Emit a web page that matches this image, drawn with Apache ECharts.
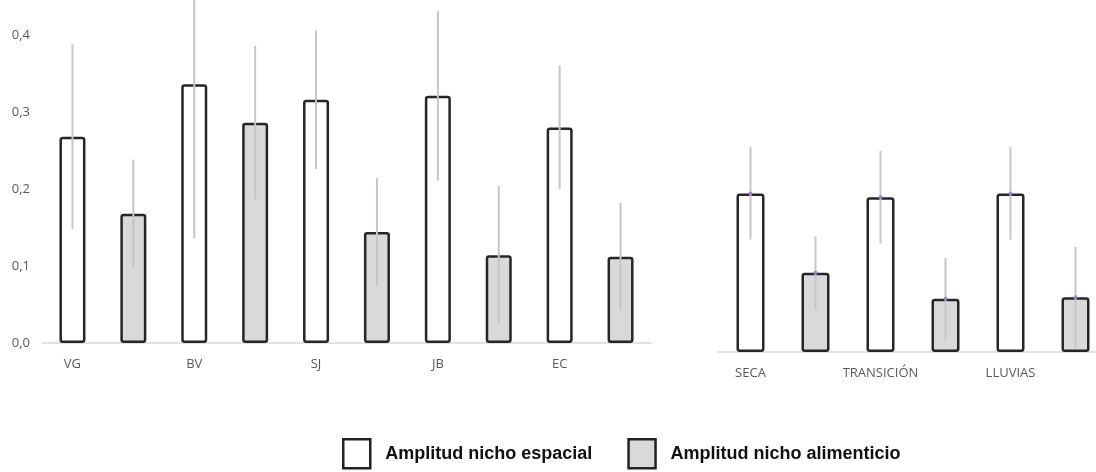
<!DOCTYPE html>
<html>
<head>
<meta charset="utf-8">
<script src="https://cdn.jsdelivr.net/npm/echarts@6/dist/echarts.min.js"></script>
<style>
  html, body { margin: 0; padding: 0; background: #fff; }
  #main { width: 1096px; height: 472px; }
</style>
</head>
<body>
<div id="main"></div>
<script>
// datos por sitio (panel izquierdo)
var sitios = ['VG', 'BV', 'SJ', 'JB', 'EC'];
var espacialSitio = [0.268, 0.336, 0.316, 0.321, 0.280];
var espacialSitioErr = [0.12, 0.20, 0.09, 0.11, 0.08];
var alimSitio = [0.168, 0.286, 0.144, 0.114, 0.112];
var alimSitioErr = [0.07, 0.10, 0.07, 0.09, 0.07];

// datos por temporada (panel derecho)
var temporadas = ['SECA', 'TRANSICIÓN', 'LLUVIAS'];
var espacialTemp = [0.206, 0.201, 0.206];
var espacialTempErr = [0.06, 0.06, 0.06];
var alimTemp = [0.103, 0.069, 0.071];
var alimTempErr = [0.047, 0.053, 0.066];

var yTicks = [0, 0.1, 0.2, 0.3, 0.4];

var nameEsp = 'Amplitud nicho espacial';
var nameAli = 'Amplitud nicho alimenticio';

// cada grupo ocupa dos posiciones: espacial y alimenticio
function cats(groups) {
  var c = [];
  groups.forEach(function (g) { c.push(g, ''); });
  return c;
}
function slot(vals, offset) {
  var d = [];
  vals.forEach(function (v) {
    if (offset === 0) d.push(v, null); else d.push(null, v);
  });
  return d;
}
function errData(vals, errs, offset) {
  return vals.map(function (v, i) { return [i * 2 + offset, v - errs[i], v + errs[i]]; });
}
function dots(vals, offset) {
  return vals.map(function (v, i) { return [i * 2 + offset, v]; });
}

function errRender(params, api) {
  var a = api.coord([api.value(0), api.value(1)]);
  var b = api.coord([api.value(0), api.value(2)]);
  return {
    type: 'line',
    shape: { x1: a[0], y1: a[1], x2: b[0], y2: b[1] },
    style: { stroke: '#c6c6c6', lineWidth: 2 }
  };
}

var white = { color: '#ffffff', borderColor: '#262626', borderWidth: 2.5, borderRadius: 2 };
var grey = { color: '#d9d9d9', borderColor: '#262626', borderWidth: 2.5, borderRadius: 2 };

var axisLbl = { color: '#595959', fontSize: 13, fontFamily: 'Open Sans' };

var myChart = echarts.init(document.getElementById('main'));

var option = {
  animation: false,
  backgroundColor: '#ffffff',
  legend: {
    left: 337,
    top: 433,
    itemWidth: 27,
    itemHeight: 29,
    itemGap: 35,
    icon: 'rect',
    textStyle: { color: '#111', fontSize: 18, fontWeight: 'bold', fontFamily: 'Liberation Sans', padding: [0, 0, 0, 10] },
    data: [
      { name: nameEsp, itemStyle: { color: '#fff', borderColor: '#222', borderWidth: 2.5 } },
      { name: nameAli, itemStyle: { color: '#d9d9d9', borderColor: '#222', borderWidth: 2.5 } }
    ]
  },
  grid: [
    { left: 42, right: 445, top: 35, bottom: 129, outerBoundsMode: 'none' },
    { left: 718, width: 390, top: 44, bottom: 120, outerBoundsMode: 'none' }
  ],
  xAxis: [
    {
      type: 'category', gridIndex: 0, data: cats(sitios),
      axisLine: { lineStyle: { color: '#d9d9d9', width: 1.5 } },
      axisTick: { show: false },
      axisLabel: Object.assign({ interval: 0, margin: 15 }, axisLbl)
    },
    {
      type: 'category', gridIndex: 1, data: cats(temporadas),
      axisLine: { lineStyle: { color: '#d9d9d9', width: 1.5 } },
      axisTick: { show: false },
      axisLabel: Object.assign({ interval: 0, margin: 15 }, axisLbl)
    }
  ],
  yAxis: [
    {
      type: 'value', gridIndex: 0, min: yTicks[0], max: yTicks[yTicks.length - 1], interval: 0.1,
      splitLine: { show: false },
      axisLine: { show: false },
      axisLabel: Object.assign({
        margin: 12,
        formatter: function (v) { return v.toFixed(1).replace('.', ','); }
      }, axisLbl)
    },
    {
      type: 'value', gridIndex: 1, min: 0, max: 0.4, show: false,
      splitLine: { show: false }
    }
  ],
  series: [
    { name: nameEsp, type: 'bar', xAxisIndex: 0, yAxisIndex: 0, barWidth: 26, barGap: '-100%',
      itemStyle: white, data: slot(espacialSitio, 0) },
    { name: nameAli, type: 'bar', xAxisIndex: 0, yAxisIndex: 0, barWidth: 26, barGap: '-100%',
      itemStyle: grey, data: slot(alimSitio, 1) },
    { name: nameEsp, type: 'bar', xAxisIndex: 1, yAxisIndex: 1, barWidth: 28, barGap: '-100%',
      itemStyle: white, data: slot(espacialTemp, 0) },
    { name: nameAli, type: 'bar', xAxisIndex: 1, yAxisIndex: 1, barWidth: 28, barGap: '-100%',
      itemStyle: grey, data: slot(alimTemp, 1) },
    { type: 'custom', xAxisIndex: 0, yAxisIndex: 0, z: 5, renderItem: errRender,
      data: errData(espacialSitio, espacialSitioErr, 0).concat(errData(alimSitio, alimSitioErr, 1)) },
    { type: 'custom', xAxisIndex: 1, yAxisIndex: 1, z: 5, renderItem: errRender,
      data: errData(espacialTemp, espacialTempErr, 0).concat(errData(alimTemp, alimTempErr, 1)) },
    { type: 'scatter', xAxisIndex: 1, yAxisIndex: 1, z: 6, symbolSize: 4,
      itemStyle: { color: '#9a6ad6' },
      data: dots(espacialTemp, 0).concat(dots(alimTemp, 1)) }
  ]
};

myChart.setOption(option);
</script>
</body>
</html>
